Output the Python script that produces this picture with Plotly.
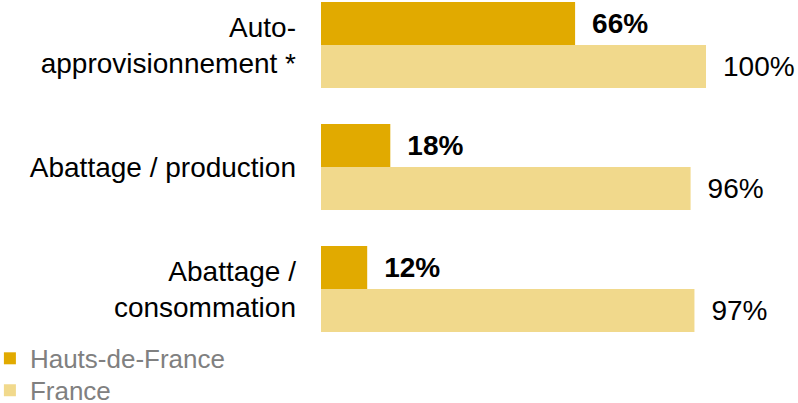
import plotly.graph_objects as go

categories = ["Auto-<br>approvisionnement *", "Abattage / production", "Abattage /<br>consommation"]
hdf_values = [66, 18, 12]
france_values = [100, 96, 97]
series_names = ["Hauts-de-France", "France"]

FONT = "Liberation Sans, Arial, Helvetica, sans-serif"
GAP = "\u2002"

fig = go.Figure()
fig.add_trace(go.Bar(
    y=categories, x=hdf_values, orientation="h", name=series_names[0],
    marker=dict(color="#E1AA00", line=dict(width=0)),
    text=[f"{v}%" for v in hdf_values], texttemplate=GAP + "<b>%{text}</b>",
    textposition="outside", cliponaxis=False,
    textfont=dict(family=FONT, size=28, color="#000000"),
    legend="legend",
))
fig.add_trace(go.Bar(
    y=categories, x=france_values, orientation="h", name=series_names[1],
    marker=dict(color="#F1D98C", line=dict(width=0)),
    text=[f"{v}%" for v in france_values], texttemplate=GAP + "%{text}",
    textposition="outside", cliponaxis=False,
    textfont=dict(family=FONT, size=28, color="#000000"),
    legend="legend2",
))

legend_style = dict(
    orientation="v", x=-0.86, xanchor="left", yanchor="top",
    font=dict(family=FONT, size=26, color="#808080"),
    tracegroupgap=0, bgcolor="rgba(0,0,0,0)",
)

fig.update_layout(
    width=798, height=403,
    margin=dict(l=321, r=92, t=0, b=63, autoexpand=False),
    barmode="group", bargap=0.295, bargroupgap=0,
    paper_bgcolor="white", plot_bgcolor="white",
    font=dict(family=FONT, size=28, color="#000000"),
    showlegend=True,
    legend=dict(legend_style, y=0.015),
    legend2=dict(legend_style, y=-0.079),
)
fig.update_xaxes(range=[0, 100], visible=False, showgrid=False, zeroline=False, automargin=False)
fig.update_yaxes(
    range=[2.418, -0.369], showgrid=False, zeroline=False, showline=False,
    ticks="", ticklabelstandoff=24, automargin=False,
    tickfont=dict(family=FONT, size=28, color="#000000"),
)

fig.write_html("out.html", config={"displayModeBar": False},
               post_script="document.body.style.margin='0';")
